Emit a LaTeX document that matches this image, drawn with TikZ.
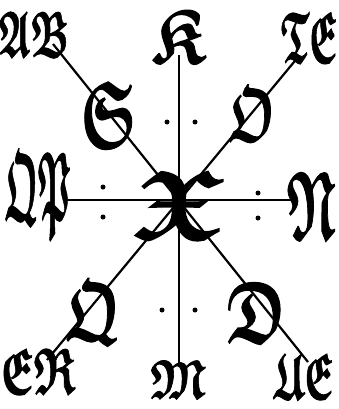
\documentclass[tikz,border=0pt]{standalone}
\usepackage{amssymb}
\usepackage{graphicx}
\newcommand{\blk}[3]{\scalebox{#1}[#2]{\Huge\boldmath\special{pdf:literal direct 2 Tr 0.35 w}$\mathfrak{#3}$\special{pdf:literal direct 0 Tr}}}
\tikzset{
  ltr/.style={inner sep=0pt, outer sep=0pt, anchor=center},
  stroke/.style={line width=2.2pt, black},
  dotm/.style={circle, fill=black, inner sep=0pt, minimum size=5pt}
}
\begin{document}
\begin{tikzpicture}[x=1pt, y=-1pt]
\useasboundingbox (0,0) rectangle (339,409);
% line end coordinates
\coordinate (vT) at (179,55);
\coordinate (vB) at (179,365);
\coordinate (hL) at (66,200);
\coordinate (hR) at (292,200);
\coordinate (dAa) at (53,44);
\coordinate (dAb) at (308,362);
\coordinate (dBa) at (299,56);
\coordinate (dBb) at (47,360);
\draw[stroke] (vT) -- (vB);
\draw[stroke] (hL) -- (hR);
\draw[stroke] (dAa) -- (dAb);
\draw[stroke] (dBa) -- (dBb);
% dots
\node[dotm] (p1) at (167,122) {};
\node[dotm] (p2) at (195,122) {};
\node[dotm] (p3) at (103,187) {};
\node[dotm] (p4) at (103,217) {};
\node[dotm] (p5) at (258,193) {};
\node[dotm] (p6) at (258,218) {};
\node[dotm] (p7) at (162,310) {};
\node[dotm] (p8) at (195,310) {};
% letters
\node[ltr] (AB) at (34,34) {\blk{1.5}{2.6}{AB}};
\node[ltr] (K) at (178,36) {\blk{2.7}{3.1}{K}};
\node[ltr] (TE) at (309,37) {\blk{1.45}{2.9}{TE}};
\node[ltr] (S) at (108,114) {\blk{2.3}{3.8}{S}};
\node[ltr] (O) at (252,114) {\blk{1.9}{3.1}{O}};
\node[ltr] (QP) at (38,195) {\blk{1.35}{3.9}{QP}};
\node[ltr] (X) at (178,204) {\blk{4.4}{3.9}{X}};
\node[ltr] (N) at (311,205) {\blk{2.0}{3.9}{N}};
\node[ltr] (Q) at (93,312) {\blk{2.2}{3.4}{Q}};
\node[ltr] (D) at (256,312) {\blk{2.4}{3.5}{D}};
\node[ltr] (ER) at (38,371) {\blk{1.7}{2.6}{ER}};
\node[ltr] (M) at (178,379) {\blk{1.8}{2.2}{M}};
\node[ltr] (UE) at (303,376) {\blk{1.5}{2.6}{UE}};
\end{tikzpicture}
\end{document}
